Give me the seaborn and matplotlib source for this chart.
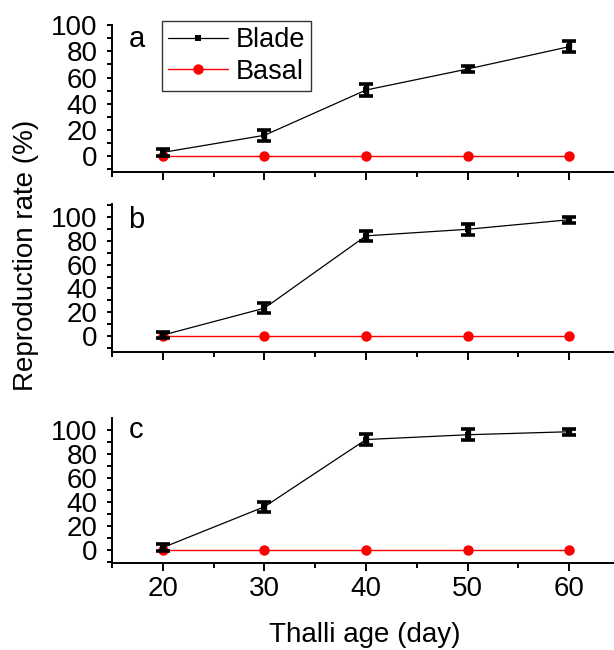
import numpy as np
import pandas as pd
import matplotlib
matplotlib.use("Agg")
import matplotlib.pyplot as plt
from matplotlib.ticker import MultipleLocator
from matplotlib.lines import Line2D
import seaborn as sns

sns.set_theme(style="ticks")
plt.rcParams["font.family"] = ["Liberation Sans", "DejaVu Sans"]
plt.rcParams.update({
    "text.color": "black",
    "axes.labelcolor": "black",
    "xtick.color": "black",
    "ytick.color": "black",
    "xtick.labelcolor": "black",
    "ytick.labelcolor": "black",
})

# Thalli age (days)
ages = [20, 30, 40, 50, 60]

# Reproduction rate (%) of blade cells, with error bars, for panels a, b, c
blade_a = [3.0, 16.0, 50.5, 66.5, 83.5]
blade_a_err = [2.5, 4.0, 4.2, 2.2, 4.0]
blade_b = [1.0, 23.5, 84.0, 89.5, 97.5]
blade_b_err = [2.5, 4.0, 4.0, 4.5, 2.5]
blade_c = [2.0, 36.0, 92.0, 96.0, 98.5]
blade_c_err = [3.0, 4.2, 4.5, 4.5, 2.5]

# Basal cells never reproduced
basal_a = [0, 0, 0, 0, 0]
basal_b = [0, 0, 0, 0, 0]
basal_c = [0, 0, 0, 0, 0]

panel_letters = ["a", "b", "c"]
x_ticks = [20, 30, 40, 50, 60]
y_ticks = [0, 20, 40, 60, 80, 100]

panels = [
    (blade_a, blade_a_err, basal_a, (-11.7, 100.0)),
    (blade_b, blade_b_err, basal_b, (-12.9, 110.4)),
    (blade_c, blade_c_err, basal_c, (-10.6, 109.7)),
]

fig = plt.figure(figsize=(6.14, 6.5), dpi=100)
W, H = 614, 650
left, right = 112, 614
boxes = [(25, 171.7), (204.3, 351.7), (418.3, 562.7)]

FS = 20

for i, ((blade, err, basal, ylim), (top, bot)) in enumerate(zip(panels, boxes)):
    ax = fig.add_axes([left / W, 1 - bot / H, (right - left) / W, (bot - top) / H])
    df_blade = pd.DataFrame({"age": ages, "rate": blade})
    df_basal = pd.DataFrame({"age": ages, "rate": basal})

    sns.lineplot(data=df_basal, x="age", y="rate", ax=ax, color="#ff0000",
                 marker="o", markersize=7.5, markeredgewidth=0, linewidth=1.0,
                 zorder=3)
    sns.lineplot(data=df_blade, x="age", y="rate", ax=ax, color="black",
                 marker="s", markersize=5, markeredgewidth=0, linewidth=0.9,
                 zorder=4)
    ax.errorbar(ages, blade, yerr=err, fmt="none", ecolor="black",
                elinewidth=3.8, capsize=4.8, capthick=2.6, zorder=5)

    ax.set_xlim(15, 64.4)
    ax.set_ylim(*ylim)
    ax.set_xticks(x_ticks)
    ax.set_yticks(y_ticks)
    ax.xaxis.set_minor_locator(MultipleLocator(5))
    ax.yaxis.set_minor_locator(MultipleLocator(10))
    ax.set_xlabel("")
    ax.set_ylabel("")
    for s in ["top", "right"]:
        ax.spines[s].set_visible(False)
    for s in ["left", "bottom"]:
        ax.spines[s].set_linewidth(1.4)
        ax.spines[s].set_color("black")
    ax.tick_params(axis="y", which="both", direction="out", length=3.6,
                   width=1.4, colors="black", labelsize=FS, pad=7)
    ax.tick_params(axis="x", which="major", direction="out", length=5.5,
                   width=1.4, colors="black", labelsize=FS, pad=4)
    ax.tick_params(axis="x", which="minor", direction="out", length=3.6,
                   width=1.4, colors="black")
    if i < 2:
        ax.tick_params(axis="x", labelbottom=False)

    ax.text(0.033, [0.85, 0.839, 0.861][i], panel_letters[i],
            transform=ax.transAxes, fontsize=21, va="baseline", ha="left",
            color="black")

    if i == 0:
        handles = [
            Line2D([], [], color="black", marker="s", markersize=5,
                   linewidth=0.9, markeredgewidth=0),
            Line2D([], [], color="#ff0000", marker="o", markersize=7.5,
                   linewidth=1.0, markeredgewidth=0),
        ]
        leg = ax.legend(handles, ["Blade", "Basal"], loc="upper left",
                        bbox_to_anchor=(0.1, 1.027), fontsize=19.5,
                        frameon=True, fancybox=False, edgecolor="black",
                        handlelength=2.2, handletextpad=0.3,
                        labelspacing=0.22, borderpad=0.22, borderaxespad=0)
        leg.get_frame().set_linewidth(1.0)
        for t in leg.get_texts():
            t.set_color("black")

fig.text(26 / W, 1 - 255 / H, "Reproduction rate (%)", rotation=90,
         fontsize=20, ha="center", va="center", color="black")
fig.text(365 / W, 1 - 635 / H, "Thalli age (day)", fontsize=20,
         ha="center", va="center", color="black")

fig.savefig("out.png", dpi=100, facecolor="white")
